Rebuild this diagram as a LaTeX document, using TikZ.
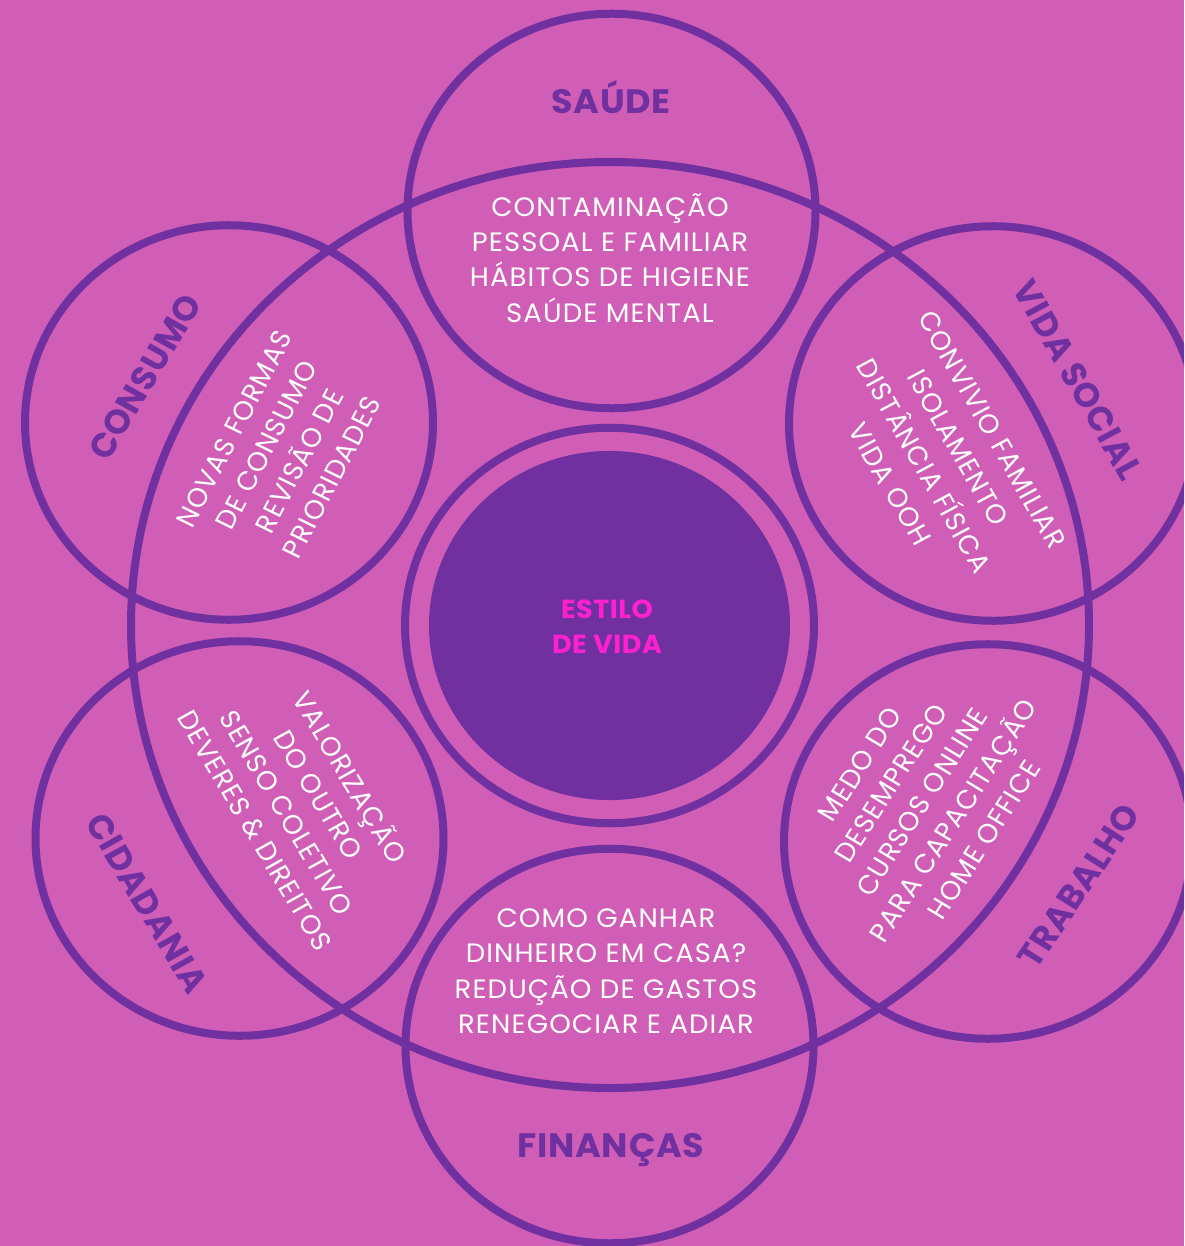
\documentclass[tikz,border=0pt]{standalone}
\usepackage{fontspec}
\setmainfont{Poppins}[LetterSpace=4]
\usetikzlibrary{shapes.geometric}
\definecolor{bgpink}{HTML}{D05EB7}
\definecolor{deeppurple}{HTML}{7030A0}
\definecolor{hotpink}{HTML}{FF21D0}
\begin{document}
\begin{tikzpicture}[x=1pt,y=-1pt,
  % the whole layout is slightly flattened vertically
  squash/.style={yscale=0.967},
  ring/.style={draw=deeppurple, line width=8pt, inner sep=0pt, outer sep=0pt},
  petal/.style={squash, ring, circle, minimum size=408pt},
  body/.style={squash, text=white, align=center, inner sep=0pt,
    font=\fontsize{27.5}{36.6}\selectfont},
  title/.style={squash, text=deeppurple, inner sep=0pt,
    font=\fontsize{35}{40}\selectfont\bfseries\addfontfeature{LetterSpace=2}},
  core/.style={squash, text=hotpink, align=center, inner sep=0pt,
    font=\fontsize{27}{36.2}\selectfont\bfseries\addfontfeature{LetterSpace=2}}]
\fill[bgpink] (0,0) rectangle (1184,1246);
\useasboundingbox (0,0) rectangle (1184,1246);
\clip (0,0) rectangle (1184,1246);

% large ellipse behind the petals
\node[ring, ellipse, minimum width=958pt, minimum height=926pt] (life) at (610,625) {};

% six petals
\node[petal] (saude)    at (611.5,211)  {};
\node[petal] (consumo)  at (229,422.5)  {};
\node[petal] (social)   at (993,423.5)  {};
\node[petal] (cidad)    at (239.5,838.5) {};
\node[petal] (trabalho) at (988,841.5)  {};
\node[petal] (financas) at (609.5,1046) {};

% centre: ring and filled disc
\node[ring, circle, squash, minimum size=409pt] (hubring) at (609.5,625.5) {};
\node[circle, squash, fill=deeppurple, minimum size=361pt, inner sep=0pt] (hub) at (609.5,625.5) {};
\node[core] (hubtext) at (607,627) {ESTILO\\DE VIDA};

% petal titles
\node[title] (t-saude) at (611,97) {SAÚDE};
\node[title, rotate=60] (t-consumo) at (145,377) {CONSUMO};
\node[title, rotate=-61] (t-social) at (1078,380) {VIDA SOCIAL};
\node[title, rotate=-60] (t-cidad) at (147,903) {CIDADANIA};
\node[title, rotate=57] (t-trabalho) at (1079,886) {TRABALHO};
\node[title] (t-financas) at (611,1150) {FINANÇAS};

% petal contents
\node[body] (b-saude) at (610,258)
  {CONTAMINAÇÃO\\PESSOAL E FAMILIAR\\HÁBITOS DE HIGIENE\\SAÚDE MENTAL};
\node[body, rotate=63] (b-consumo) at (283,453)
  {NOVAS FORMAS\\DE CONSUMO\\REVISÃO DE\\PRIORIDADES};
\node[body, rotate=-61, font=\fontsize{27.5}{39}\selectfont] (b-social) at (941,457)
  {CONVIVIO FAMILIAR\\ISOLAMENTO\\DISTÂNCIA FÍSICA\\VIDA OOH};
\node[body, rotate=-60] (b-cidad) at (304,803)
  {VALORIZAÇÃO\\DO OUTRO\\SENSO COLETIVO\\DEVERES \& DIREITOS};
\node[body, rotate=58] (b-trabalho) at (922,802)
  {MEDO DO\\DESEMPREGO\\CURSOS ONLINE\\PARA CAPACITAÇÃO\\HOME OFFICE};
\node[body] (b-financas) at (606,971)
  {COMO GANHAR\\DINHEIRO EM CASA?\\REDUÇÃO DE GASTOS\\RENEGOCIAR E ADIAR};
\end{tikzpicture}
\end{document}
